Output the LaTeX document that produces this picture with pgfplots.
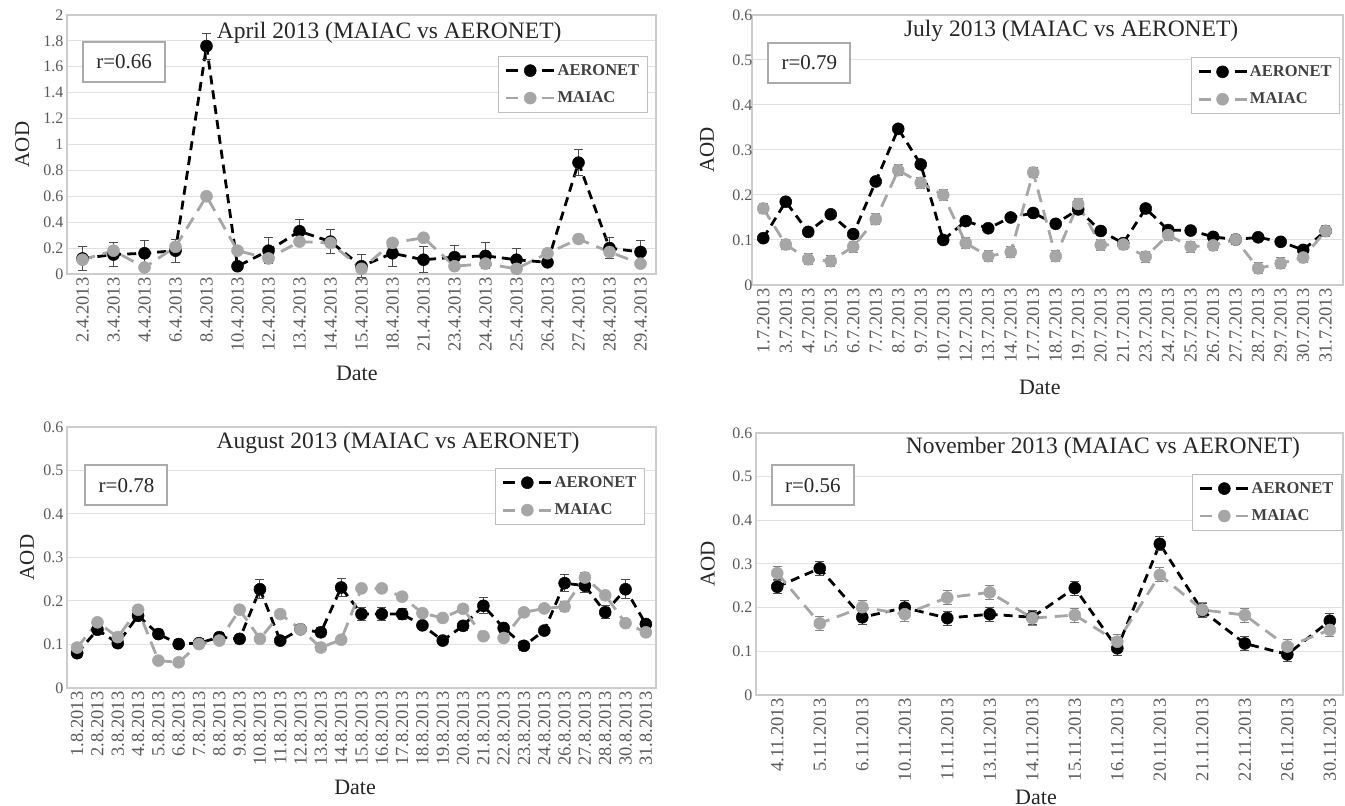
\documentclass[border=0pt]{standalone}
\usepackage{fontspec}
\setmainfont{Liberation Serif}
\usepackage{pgfplots}
\usepackage{pgfplotstable}
\pgfplotsset{compat=1.18}
\definecolor{maigray}{HTML}{A6A6A6}
\definecolor{ticktxt}{HTML}{595959}

\pgfplotstableread{
x d aer aerr mai merr
0 2.4.2013 0.12 0.09 0.11 0.02
1 3.4.2013 0.15 0.09 0.18 0.03
2 4.4.2013 0.16 0.10 0.05 0.02
3 6.4.2013 0.18 0.09 0.21 0.02
4 8.4.2013 1.76 0.10 0.60 0.02
5 10.4.2013 0.06 0.02 0.18 0.02
6 12.4.2013 0.18 0.10 0.12 0.02
7 13.4.2013 0.33 0.09 0.25 0.02
8 14.4.2013 0.25 0.09 0.24 0.02
9 15.4.2013 0.06 0.09 0.04 0.02
10 18.4.2013 0.16 0.10 0.24 0.02
11 21.4.2013 0.11 0.10 0.28 0.02
12 23.4.2013 0.13 0.09 0.06 0.02
13 24.4.2013 0.14 0.10 0.08 0.02
14 25.4.2013 0.11 0.09 0.04 0.02
15 26.4.2013 0.09 0.03 0.16 0.02
16 27.4.2013 0.86 0.10 0.27 0.02
17 28.4.2013 0.20 0.08 0.17 0.02
18 29.4.2013 0.17 0.09 0.08 0.02
}\apr

\pgfplotstableread{
x d aer aerr mai merr
0 1.7.2013 0.104 0.007 0.170 0.012
1 3.7.2013 0.185 0.007 0.090 0.012
2 4.7.2013 0.118 0.007 0.057 0.012
3 5.7.2013 0.157 0.007 0.053 0.012
4 6.7.2013 0.113 0.007 0.085 0.012
5 7.7.2013 0.230 0.007 0.146 0.012
6 8.7.2013 0.347 0.007 0.255 0.012
7 9.7.2013 0.268 0.007 0.227 0.012
8 10.7.2013 0.100 0.007 0.200 0.012
9 12.7.2013 0.142 0.007 0.093 0.012
10 13.7.2013 0.126 0.007 0.064 0.012
11 14.7.2013 0.150 0.007 0.073 0.012
12 17.7.2013 0.160 0.007 0.250 0.012
13 18.7.2013 0.136 0.007 0.064 0.012
14 19.7.2013 0.168 0.007 0.180 0.012
15 20.7.2013 0.120 0.007 0.089 0.012
16 21.7.2013 0.093 0.007 0.090 0.012
17 23.7.2013 0.170 0.007 0.063 0.012
18 24.7.2013 0.122 0.007 0.111 0.012
19 25.7.2013 0.121 0.007 0.085 0.012
20 26.7.2013 0.107 0.007 0.088 0.012
21 27.7.2013 0.101 0.007 0.101 0.012
22 28.7.2013 0.106 0.007 0.037 0.012
23 29.7.2013 0.096 0.007 0.048 0.012
24 30.7.2013 0.078 0.007 0.061 0.012
25 31.7.2013 0.120 0.007 0.120 0.012
}\jul

\pgfplotstableread{
x d aer aerr mai merr
0 1.8.2013 0.080 0.010 0.093 0.008
1 2.8.2013 0.134 0.010 0.151 0.008
2 3.8.2013 0.103 0.010 0.117 0.008
3 4.8.2013 0.166 0.010 0.180 0.008
4 5.8.2013 0.124 0.010 0.063 0.008
5 6.8.2013 0.101 0.010 0.059 0.008
6 7.8.2013 0.103 0.010 0.101 0.008
7 8.8.2013 0.117 0.010 0.109 0.008
8 9.8.2013 0.113 0.010 0.180 0.008
9 10.8.2013 0.227 0.022 0.113 0.008
10 11.8.2013 0.109 0.010 0.170 0.008
11 12.8.2013 0.135 0.010 0.135 0.008
12 13.8.2013 0.128 0.010 0.093 0.008
13 14.8.2013 0.231 0.020 0.111 0.008
14 15.8.2013 0.170 0.015 0.229 0.008
15 16.8.2013 0.170 0.015 0.229 0.008
16 17.8.2013 0.170 0.012 0.210 0.008
17 18.8.2013 0.144 0.010 0.172 0.008
18 19.8.2013 0.109 0.010 0.161 0.008
19 20.8.2013 0.143 0.010 0.182 0.008
20 21.8.2013 0.189 0.018 0.119 0.008
21 22.8.2013 0.138 0.010 0.115 0.008
22 23.8.2013 0.097 0.010 0.174 0.008
23 24.8.2013 0.132 0.010 0.183 0.008
24 26.8.2013 0.241 0.020 0.187 0.012
25 27.8.2013 0.235 0.015 0.254 0.012
26 28.8.2013 0.174 0.015 0.213 0.008
27 30.8.2013 0.227 0.022 0.149 0.008
28 31.8.2013 0.147 0.010 0.128 0.008
}\aug

\pgfplotstableread{
x d aer aerr mai merr
0 4.11.2013 0.248 0.016 0.279 0.016
1 5.11.2013 0.290 0.016 0.164 0.016
2 6.11.2013 0.178 0.016 0.201 0.016
3 10.11.2013 0.200 0.016 0.185 0.016
4 11.11.2013 0.176 0.016 0.223 0.016
5 13.11.2013 0.185 0.016 0.235 0.016
6 14.11.2013 0.178 0.016 0.176 0.016
7 15.11.2013 0.245 0.016 0.183 0.016
8 16.11.2013 0.107 0.016 0.122 0.016
9 20.11.2013 0.346 0.016 0.275 0.016
10 21.11.2013 0.193 0.016 0.195 0.016
11 22.11.2013 0.118 0.016 0.183 0.016
12 26.11.2013 0.093 0.016 0.111 0.016
13 30.11.2013 0.170 0.016 0.149 0.016
}\nov

\tikzset{
  rbox/.style={draw=black!33, line width=2pt, minimum width=82pt, minimum height=40pt,
    font=\rmfamily\fontsize{21}{24}\selectfont, text=black!85, fill=white},
}
\pgfplotsset{
  every axis title shift=0pt,
  panel/.style={
    scale only axis, anchor=south west, enlargelimits=false, ymin=0,
    xmin=-0.5, xtick=data,
    axis line style={draw=black!20, line width=1.2pt},
    ymajorgrids, grid style={draw=black!12, line width=1pt},
    major tick length=0pt,
    /pgf/number format/assume math mode=true,
    tick label style={text=ticktxt},
    yticklabel style={font=\rmfamily\fontsize{16}{18}\selectfont},
    xticklabel style={rotate=90, anchor=east, font=\rmfamily\fontsize{18.5}{19}\selectfont},
    title style={anchor=base, font=\rmfamily\fontsize{23.5}{26}\selectfont, text=black!85},
    xlabel style={anchor=center, font=\rmfamily\fontsize{22}{24}\selectfont, text=black!85},
    ylabel style={anchor=center, font=\rmfamily\fontsize{21}{24}\selectfont, text=black!85},
    xlabel={Date}, ylabel={AOD},
    legend style={anchor=north east, draw=black!25, line width=1pt,
      font=\rmfamily\bfseries\fontsize{16.5}{18}\selectfont, text=black!75,
      row sep=11pt, inner xsep=6pt, inner ysep=6pt},
    legend cell align=left,
    legend image code/.code={
      \draw[#1, dash pattern=on 12pt off 24pt] (0pt,0pt) -- (48pt,0pt);
      \draw[mark repeat=2,mark phase=2,#1, draw opacity=0]
      plot coordinates {(0pt,0pt) (24pt,0pt) (48pt,0pt)};},
    clip=false,
  },
  aer/.style={black, line width=2.8pt, dash pattern=on 9pt off 6pt,
    mark=*, mark size=6pt, mark options={solid, line width=0.5pt, draw opacity=1},
    error bars/.cd, y dir=both, y explicit,
    error bar style={solid, line width=1pt, black!70},
    error mark options={rotate=90, mark size=4.5pt, line width=1pt, black!70}},
  mai/.style={maigray, line width=2.8pt, dash pattern=on 13pt off 8pt,
    mark=*, mark size=6pt, mark options={solid, line width=0.5pt, draw opacity=1},
    error bars/.cd, y dir=both, y explicit,
    error bar style={solid, line width=1pt, maigray!80!black},
    error mark options={rotate=90, mark size=4.5pt, line width=1pt, maigray!80!black}},
}

\begin{document}
\begin{tikzpicture}
\useasboundingbox (0pt,0pt) rectangle (1345pt,806pt);

% April
\begin{axis}[panel, at={(67pt,532pt)}, width=589pt, height=259pt,
  xmax=18.5, ymax=2, ytick={0,0.2,0.4,0.6,0.8,1,1.2,1.4,1.6,1.8,2},
  xticklabels from table={\apr}{d},
  title={April 2013 (MAIAC vs AERONET)},
  title style={at={(axis description cs:0.547,0.911)}},
  xlabel style={at={(axis description cs:0.492,-0.382)}},
  ylabel style={at={(axis description cs:-0.076,0.5)}},
  legend style={at={(axis description cs:0.986,0.842)}}]
\addplot+[aer] table[x=x, y=aer, y error=aerr] {\apr};
\addlegendentry{AERONET}
\addplot+[mai] table[x=x, y=mai, y error=merr] {\apr};
\addlegendentry{MAIAC}
\node[rbox] at (axis description cs:0.097,0.819) {r=0.66};
\end{axis}

% July
\begin{axis}[panel, at={(752pt,521pt)}, width=591pt, height=270pt,
  xmax=25.77, ymax=0.6, ytick={0,0.1,0.2,0.3,0.4,0.5,0.6},
  yticklabel style={xshift=4pt},
  xticklabels from table={\jul}{d},
  title={July 2013 (MAIAC vs AERONET)},
  title style={at={(axis description cs:0.54,0.922)}},
  xlabel style={at={(axis description cs:0.487,-0.381)}},
  ylabel style={at={(axis description cs:-0.076,0.5)}},
  legend style={at={(axis description cs:0.995,0.844)}}]
\addplot+[aer] table[x=x, y=aer, y error=aerr] {\jul};
\addlegendentry{AERONET}
\addplot+[mai] table[x=x, y=mai, y error=merr] {\jul};
\addlegendentry{MAIAC}
\node[rbox] at (axis description cs:0.097,0.822) {r=0.79};
\end{axis}

% August
\begin{axis}[panel, at={(67pt,118pt)}, width=589pt, height=261pt,
  xmax=28.5, ymax=0.6, ytick={0,0.1,0.2,0.3,0.4,0.5,0.6},
  xticklabels from table={\aug}{d},
  title={August 2013 (MAIAC vs AERONET)},
  title style={at={(axis description cs:0.562,0.918)}},
  xlabel style={at={(axis description cs:0.489,-0.379)}},
  ylabel style={at={(axis description cs:-0.068,0.5)}},
  legend style={at={(axis description cs:0.981,0.843)}}]
\addplot+[aer] table[x=x, y=aer, y error=aerr] {\aug};
\addlegendentry{AERONET}
\addplot+[mai] table[x=x, y=mai, y error=merr] {\aug};
\addlegendentry{MAIAC}
\node[rbox] at (axis description cs:0.101,0.776) {r=0.78};
\end{axis}

% November
\begin{axis}[panel, at={(756pt,111pt)}, width=587pt, height=262pt,
  xmax=13.31, ymax=0.6, ytick={0,0.1,0.2,0.3,0.4,0.5,0.6},
  xticklabels from table={\nov}{d},
  title={November 2013 (MAIAC vs AERONET)},
  title style={at={(axis description cs:0.591,0.922)}},
  xlabel style={at={(axis description cs:0.477,-0.389)}},
  ylabel style={at={(axis description cs:-0.082,0.5)}},
  legend style={at={(axis description cs:0.998,0.844)}}]
\addplot+[aer] table[x=x, y=aer, y error=aerr] {\nov};
\addlegendentry{AERONET}
\addplot+[mai] table[x=x, y=mai, y error=merr] {\nov};
\addlegendentry{MAIAC}
\node[rbox] at (axis description cs:0.097,0.8) {r=0.56};
\end{axis}
\end{tikzpicture}
\end{document}
